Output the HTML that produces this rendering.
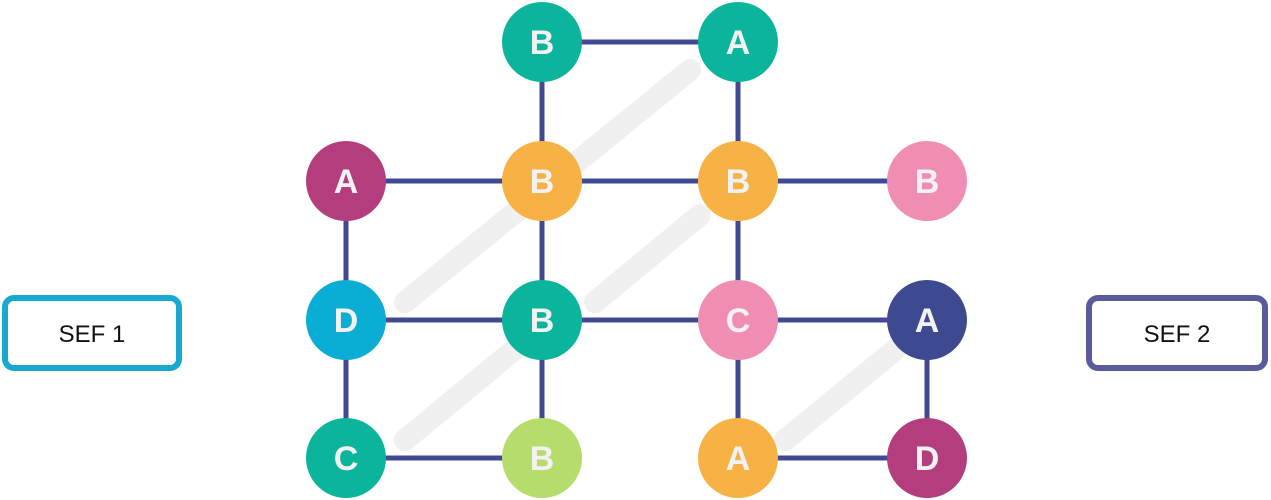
<!DOCTYPE html>
<html><head><meta charset="utf-8"><style>
body{margin:0;background:#fff;width:1271px;height:500px;overflow:hidden}
svg{display:block}
text{font-family:"Liberation Sans",sans-serif;font-weight:bold}
.l{font-weight:normal}
</style></head><body>
<svg width="1271" height="500" viewBox="0 0 1271 500">
<g stroke="#f0f0f0" stroke-width="22" stroke-linecap="round" fill="none">
<line x1="405" y1="302" x2="690" y2="70"/>
<line x1="595" y1="302" x2="700" y2="215"/>
<line x1="405" y1="440" x2="520" y2="345"/>
<line x1="785" y1="440" x2="895" y2="350"/>
</g>
<g stroke="#3f4a92" stroke-width="5">
<line x1="542" y1="42" x2="738" y2="42"/>
<line x1="542" y1="42" x2="542" y2="458"/>
<line x1="738" y1="42" x2="738" y2="458"/>
<line x1="346" y1="181" x2="927" y2="181"/>
<line x1="346" y1="320" x2="927" y2="320"/>
<line x1="346" y1="458" x2="542" y2="458"/>
<line x1="738" y1="458" x2="927" y2="458"/>
<line x1="346" y1="181" x2="346" y2="458"/>
<line x1="927" y1="320" x2="927" y2="458"/>
</g>
<g font-size="34" fill="#f2f2f2" text-anchor="middle">
<circle cx="542" cy="42" r="40" fill="#0bb59c"/><text x="542" y="54">B</text>
<circle cx="738" cy="42" r="40" fill="#0bb59c"/><text x="738" y="54">A</text>
<circle cx="346" cy="181" r="40" fill="#b43d7d"/><text x="346" y="193">A</text>
<circle cx="542" cy="181" r="40" fill="#f7b245"/><text x="542" y="193">B</text>
<circle cx="738" cy="181" r="40" fill="#f7b245"/><text x="738" y="193">B</text>
<circle cx="927" cy="181" r="40" fill="#f08db2"/><text x="927" y="193">B</text>
<circle cx="346" cy="320" r="40" fill="#0aadd4"/><text x="346" y="332">D</text>
<circle cx="542" cy="320" r="40" fill="#0bb59c"/><text x="542" y="332">B</text>
<circle cx="738" cy="320" r="40" fill="#f08db2"/><text x="738" y="332">C</text>
<circle cx="927" cy="320" r="40" fill="#3d4a8f"/><text x="927" y="332">A</text>
<circle cx="346" cy="458" r="40" fill="#0bb59c"/><text x="346" y="470">C</text>
<circle cx="542" cy="458" r="40" fill="#b6dc6c"/><text x="542" y="470">B</text>
<circle cx="738" cy="458" r="40" fill="#f7b245"/><text x="738" y="470">A</text>
<circle cx="927" cy="458" r="40" fill="#b43d7d"/><text x="927" y="470">D</text>
</g>
<rect x="5" y="298" width="174" height="70" rx="9" fill="#fff" stroke="#18a9d0" stroke-width="6"/>
<text class="l" x="92" y="342" font-size="24" text-anchor="middle" fill="#111">SEF 1</text>
<rect x="1089" y="298" width="176" height="70" rx="9" fill="#fff" stroke="#5a5b9c" stroke-width="6"/>
<text class="l" x="1177" y="342" font-size="24" text-anchor="middle" fill="#111">SEF 2</text>
</svg>
</body></html>
